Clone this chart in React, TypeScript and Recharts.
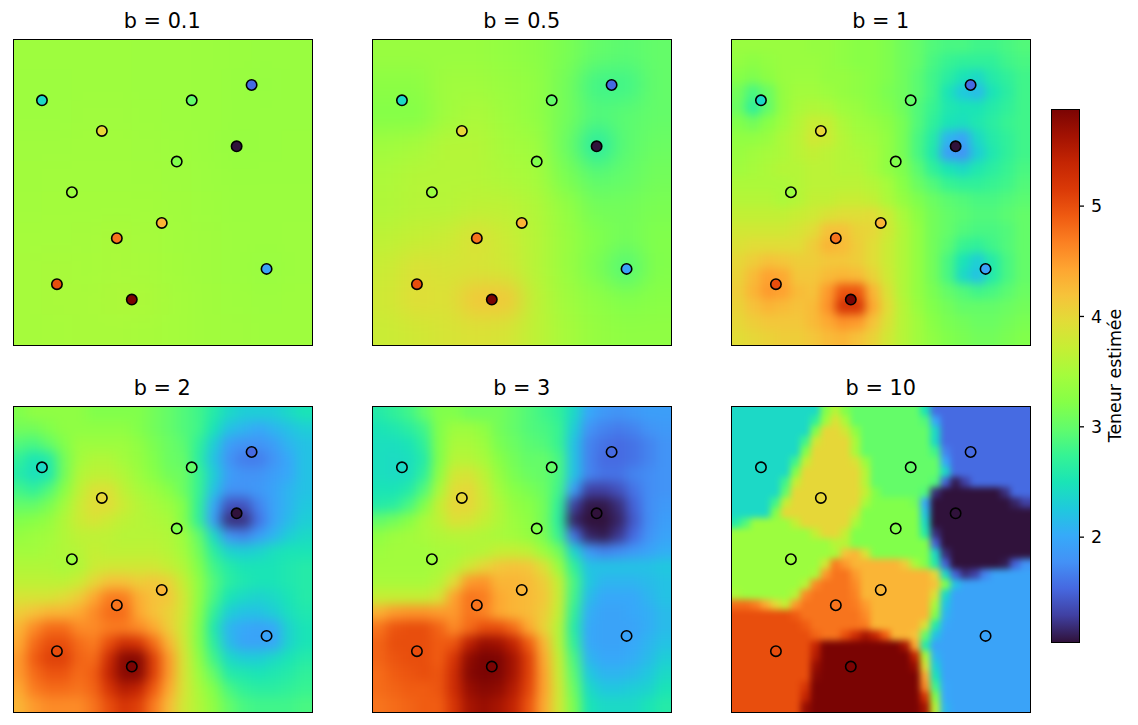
import { Bar, BarChart, Scatter, ScatterChart, XAxis, YAxis } from "recharts";

// sample points: position and measured value
const POINT_X = [10, 30, 60, 80, 75, 55, 20, 50, 35, 85, 15, 40];
const POINT_Y = [80, 70, 80, 85, 65, 60, 50, 40, 35, 25, 20, 15];
const POINT_V = [2.4, 4.0, 3.0, 1.55, 1.05, 3.2, 3.4, 4.3, 4.75, 1.95, 5.0, 5.88];

const TITLES = ["b = 0.1", "b = 0.5", "b = 1", "b = 2", "b = 3", "b = 10"];
const V_MIN = 1.05;
const V_MAX = 5.88;
const BAR_TICKS = [2, 3, 4, 5];

const TURBO = [
  "#30123b", "#4040a2", "#4668e0", "#4391f6", "#36aaf9", "#1fc9dd", "#1ae4b6",
  "#35f394", "#61fc6c", "#85ff47", "#a4fc3c", "#c5ef34", "#e1dd37", "#f6c33a",
  "#fea531", "#fb8022", "#ef5a11", "#da3907", "#c42503", "#a21202", "#7a0403",
];

// estimated field, rows from top to bottom
const GRID_B01 = [
  [3.42,3.42,3.42,3.42,3.41,3.41,3.4,3.39,3.38,3.38],
  [3.41,3.41,3.42,3.42,3.41,3.41,3.4,3.38,3.36,3.38],
  [3.41,3.41,3.43,3.43,3.42,3.41,3.4,3.38,3.38,3.38],
  [3.43,3.43,3.44,3.44,3.43,3.42,3.4,3.36,3.38,3.39],
  [3.44,3.45,3.45,3.45,3.44,3.43,3.41,3.39,3.39,3.39],
  [3.45,3.46,3.46,3.46,3.46,3.44,3.42,3.4,3.4,3.4],
  [3.47,3.47,3.48,3.5,3.48,3.45,3.43,3.41,3.4,3.41],
  [3.48,3.5,3.49,3.5,3.49,3.46,3.43,3.41,3.38,3.41],
  [3.48,3.5,3.5,3.53,3.52,3.47,3.44,3.42,3.41,3.42],
  [3.48,3.49,3.5,3.5,3.49,3.47,3.44,3.43,3.42,3.42],
];

const GRID_B05 = [
  [3.38,3.38,3.38,3.38,3.33,3.27,3.15,3.0,2.95,3.0],
  [3.28,3.28,3.43,3.43,3.38,3.32,3.1,2.8,2.8,3.0],
  [3.22,3.22,3.43,3.52,3.42,3.32,3.1,2.9,2.95,3.0],
  [3.43,3.48,3.58,3.58,3.48,3.42,3.05,2.6,2.95,3.05],
  [3.53,3.58,3.58,3.58,3.53,3.47,3.15,2.95,3.0,3.1],
  [3.55,3.6,3.6,3.65,3.65,3.55,3.33,3.1,3.1,3.15],
  [3.65,3.7,3.75,3.9,3.75,3.6,3.38,3.2,3.1,3.2],
  [3.75,3.9,3.85,3.85,3.8,3.6,3.38,3.15,2.9,3.2],
  [3.8,3.95,3.9,4.15,4.15,3.65,3.43,3.3,3.2,3.25],
  [3.75,3.8,3.85,3.9,3.85,3.65,3.48,3.35,3.3,3.3],
];

const GRID_B1 = [
  [3.38,3.38,3.38,3.38,3.38,3.35,3.35,3.3,3.25,3.25,3.18,3.08,3.0,2.9,2.85,2.85,2.8,2.8,2.85,2.9],
  [3.33,3.28,3.33,3.38,3.38,3.38,3.35,3.3,3.25,3.25,3.18,3.08,3.0,2.85,2.75,2.7,2.7,2.7,2.8,2.85],
  [3.23,3.18,3.28,3.38,3.4,3.4,3.35,3.35,3.3,3.25,3.18,3.08,2.95,2.8,2.65,2.5,2.4,2.6,2.7,2.8],
  [3.1,2.85,3.05,3.35,3.45,3.45,3.4,3.35,3.3,3.25,3.15,3.08,2.95,2.8,2.5,2.25,2.15,2.5,2.65,2.8],
  [3.05,2.7,3.0,3.35,3.5,3.55,3.52,3.42,3.37,3.27,3.2,3.08,2.9,2.75,2.55,2.5,2.5,2.6,2.7,2.8],
  [3.2,3.1,3.25,3.42,3.58,3.72,3.7,3.52,3.42,3.37,3.27,3.13,2.9,2.7,2.5,2.45,2.55,2.65,2.75,2.8],
  [3.32,3.32,3.38,3.52,3.62,3.8,3.75,3.58,3.48,3.43,3.32,3.13,2.85,2.6,2.1,1.95,2.4,2.6,2.7,2.8],
  [3.38,3.43,3.48,3.52,3.62,3.68,3.63,3.58,3.53,3.48,3.32,3.13,2.85,2.55,1.9,1.8,2.3,2.55,2.7,2.8],
  [3.43,3.48,3.52,3.58,3.58,3.63,3.63,3.58,3.58,3.48,3.32,3.18,2.95,2.7,2.5,2.4,2.55,2.65,2.75,2.85],
  [3.52,3.52,3.52,3.52,3.58,3.63,3.63,3.63,3.63,3.58,3.47,3.25,3.05,2.9,2.75,2.7,2.7,2.75,2.8,2.9],
  [3.58,3.58,3.58,3.52,3.58,3.68,3.68,3.73,3.73,3.68,3.52,3.35,3.18,3.05,2.95,2.9,2.85,2.85,2.9,2.95],
  [3.68,3.68,3.68,3.68,3.73,3.78,3.88,3.93,3.93,3.95,3.75,3.5,3.28,3.1,3.0,2.95,2.9,2.9,2.95,3.0],
  [3.8,3.8,3.8,3.8,3.85,3.95,4.2,4.2,4.05,4.0,3.8,3.55,3.33,3.1,3.0,2.9,2.85,2.85,2.9,3.0],
  [3.9,3.95,3.95,3.95,3.95,4.1,4.3,4.25,4.1,3.95,3.75,3.55,3.33,3.1,2.95,2.75,2.7,2.8,2.9,3.0],
  [4.0,4.1,4.2,4.15,4.1,4.1,4.15,4.15,4.1,3.95,3.75,3.55,3.33,3.1,2.85,2.5,2.3,2.6,2.85,3.0],
  [4.05,4.25,4.45,4.4,4.15,4.15,4.25,4.3,4.25,4.05,3.78,3.55,3.33,3.1,2.85,2.4,2.2,2.6,2.85,3.0],
  [4.1,4.3,4.5,4.45,4.25,4.2,4.5,4.95,4.95,4.3,3.88,3.55,3.33,3.15,3.0,2.9,2.8,2.85,2.95,3.05],
  [4.05,4.2,4.3,4.25,4.2,4.25,4.55,5.2,5.2,4.4,3.95,3.6,3.38,3.2,3.1,3.0,3.0,3.0,3.05,3.1],
  [4.0,4.1,4.15,4.15,4.15,4.25,4.4,4.55,4.5,4.2,3.88,3.6,3.43,3.25,3.15,3.1,3.05,3.05,3.1,3.15],
  [3.95,4.0,4.05,4.1,4.1,4.15,4.25,4.3,4.2,4.05,3.8,3.6,3.43,3.3,3.2,3.15,3.1,3.1,3.15,3.2],
];

const GRID_B2 = [
  [3.2,3.3,3.3,3.3,3.3,3.2,3.2,3.2,3.2,3.1,3.0,2.9,2.8,2.6,2.4,2.3,2.3,2.3,2.4,2.5],
  [3.1,3.1,3.2,3.3,3.3,3.3,3.3,3.3,3.2,3.1,3.0,2.9,2.8,2.5,2.2,2.1,2.0,2.1,2.2,2.3],
  [2.9,2.85,3.0,3.2,3.4,3.4,3.4,3.4,3.3,3.15,3.05,2.95,2.7,2.3,1.9,1.8,1.8,1.9,2.1,2.2],
  [2.7,2.5,2.6,3.1,3.45,3.55,3.55,3.45,3.35,3.2,3.05,3.0,2.65,2.2,1.8,1.65,1.65,1.8,2.0,2.2],
  [2.6,2.45,2.55,3.1,3.55,3.65,3.65,3.55,3.4,3.25,3.1,3.05,2.75,2.3,1.9,1.8,1.8,1.9,2.0,2.2],
  [2.8,2.7,2.9,3.25,3.65,3.9,3.9,3.65,3.5,3.4,3.25,3.05,2.75,2.2,1.8,1.8,1.85,1.95,2.1,2.2],
  [3.0,3.0,3.15,3.45,3.75,3.95,3.95,3.75,3.6,3.5,3.4,3.2,2.7,2.0,1.4,1.4,1.7,1.95,2.1,2.25],
  [3.2,3.25,3.35,3.55,3.75,3.85,3.75,3.65,3.6,3.55,3.5,3.2,2.7,1.9,1.2,1.2,1.6,1.95,2.15,2.3],
  [3.35,3.4,3.45,3.55,3.65,3.65,3.65,3.6,3.6,3.6,3.55,3.4,3.0,2.4,1.8,1.7,1.9,2.1,2.3,2.4],
  [3.45,3.45,3.5,3.55,3.6,3.7,3.65,3.65,3.65,3.65,3.6,3.45,3.1,2.65,2.35,2.3,2.35,2.45,2.5,2.5],
  [3.55,3.55,3.55,3.5,3.55,3.75,3.8,3.8,3.8,3.8,3.7,3.55,3.2,2.8,2.6,2.5,2.5,2.5,2.55,2.6],
  [3.65,3.65,3.65,3.65,3.75,4.0,4.2,4.2,4.1,4.15,4.05,3.7,3.3,2.9,2.65,2.55,2.5,2.5,2.55,2.6],
  [3.85,3.85,3.85,3.95,4.1,4.4,4.7,4.7,4.35,4.2,4.15,3.8,3.3,2.85,2.5,2.4,2.35,2.4,2.5,2.6],
  [4.1,4.2,4.3,4.3,4.4,4.6,4.8,4.8,4.4,4.2,4.05,3.8,3.25,2.7,2.3,2.2,2.2,2.3,2.45,2.55],
  [4.3,4.6,4.8,4.8,4.6,4.6,4.7,4.7,4.6,4.4,4.1,3.75,3.2,2.55,2.1,2.0,1.95,2.0,2.35,2.5],
  [4.4,4.8,5.0,5.0,4.8,4.7,5.0,5.3,5.2,4.8,4.3,3.8,3.2,2.65,2.15,1.95,1.95,1.98,2.35,2.5],
  [4.5,4.9,5.1,5.1,4.85,4.8,5.3,5.8,5.8,5.1,4.5,3.85,3.3,2.8,2.4,2.3,2.3,2.4,2.5,2.6],
  [4.5,4.8,4.95,4.95,4.8,4.9,5.4,5.8,5.8,5.1,4.5,3.85,3.4,3.0,2.6,2.55,2.5,2.55,2.6,2.7],
  [4.4,4.7,4.8,4.8,4.75,4.85,5.2,5.5,5.4,4.9,4.4,3.85,3.5,3.2,2.85,2.7,2.65,2.65,2.7,2.75],
  [4.3,4.5,4.6,4.6,4.6,4.75,5.0,5.2,5.1,4.7,4.25,3.8,3.55,3.3,3.0,2.85,2.8,2.8,2.8,2.85],
];

const GRID_B3 = [
  [2.6,2.7,2.8,3.0,3.2,3.2,3.1,3.1,3.1,3.0,2.9,2.8,2.7,2.4,2.0,1.85,1.8,1.85,1.9,1.9],
  [2.5,2.55,2.65,2.8,3.2,3.4,3.4,3.3,3.1,3.0,2.9,2.85,2.75,2.3,1.8,1.7,1.65,1.7,1.8,1.85],
  [2.45,2.45,2.5,2.7,3.2,3.5,3.5,3.4,3.15,3.05,2.95,2.9,2.75,2.2,1.7,1.6,1.55,1.6,1.7,1.8],
  [2.45,2.42,2.45,2.6,3.2,3.6,3.6,3.5,3.25,3.1,3.0,3.0,2.85,2.2,1.7,1.55,1.55,1.6,1.7,1.8],
  [2.45,2.42,2.45,2.7,3.3,3.8,3.85,3.65,3.35,3.15,3.05,3.0,2.85,2.2,1.7,1.6,1.6,1.7,1.75,1.8],
  [2.5,2.5,2.6,2.9,3.5,3.95,4.0,3.75,3.45,3.25,3.15,3.05,2.8,1.9,1.3,1.3,1.4,1.6,1.75,1.8],
  [2.6,2.65,2.85,3.2,3.7,4.0,4.0,3.8,3.55,3.35,3.25,3.1,2.7,1.3,1.08,1.08,1.2,1.5,1.75,1.85],
  [3.0,3.1,3.25,3.5,3.65,3.9,3.85,3.7,3.55,3.4,3.3,3.1,2.65,1.15,1.05,1.05,1.15,1.45,1.75,1.9],
  [3.3,3.4,3.45,3.5,3.55,3.6,3.6,3.55,3.5,3.45,3.35,3.15,2.75,1.6,1.15,1.1,1.25,1.55,1.8,1.95],
  [3.4,3.45,3.45,3.45,3.5,3.5,3.55,3.6,3.7,3.7,3.65,3.4,3.1,2.35,1.85,1.7,1.75,1.85,1.95,2.05],
  [3.45,3.45,3.45,3.45,3.5,3.6,3.8,4.0,4.15,4.2,4.15,3.9,3.4,2.7,2.2,2.2,2.2,2.2,2.2,2.25],
  [3.5,3.5,3.5,3.5,3.6,3.95,4.5,4.55,4.3,4.3,4.25,4.1,3.7,2.85,2.25,2.1,2.1,2.1,2.15,2.2],
  [3.7,3.7,3.7,3.7,3.85,4.45,4.75,4.7,4.4,4.3,4.25,4.15,3.75,2.8,2.15,2.0,2.0,2.0,2.1,2.2],
  [4.35,4.5,4.55,4.55,4.5,4.5,4.75,4.65,4.4,4.3,4.25,4.1,3.7,2.7,2.05,1.95,1.95,2.0,2.05,2.15],
  [4.75,4.95,5.0,5.0,4.85,4.6,4.8,5.0,5.0,4.8,4.4,4.05,3.6,2.6,2.0,1.95,1.95,1.95,2.05,2.15],
  [4.85,5.0,5.0,5.0,4.9,4.95,5.45,5.7,5.65,5.4,4.9,4.3,3.6,2.7,2.0,1.95,1.95,2.0,2.1,2.2],
  [4.85,4.95,5.0,5.0,4.9,5.2,5.75,5.88,5.85,5.6,5.1,4.4,3.7,2.85,2.1,2.0,2.0,2.05,2.15,2.3],
  [4.8,4.9,4.95,5.0,4.95,5.3,5.8,5.88,5.85,5.6,5.1,4.45,3.75,2.95,2.25,2.1,2.1,2.15,2.25,2.4],
  [4.8,4.85,4.9,4.9,4.95,5.3,5.7,5.8,5.75,5.5,5.05,4.45,3.8,3.05,2.4,2.25,2.25,2.3,2.35,2.5],
  [4.75,4.8,4.85,4.9,4.9,5.2,5.6,5.7,5.6,5.4,4.95,4.4,3.8,3.15,2.5,2.4,2.4,2.4,2.5,2.6],
];

const GRID_B10 = [
  [2.4,2.4,2.4,2.4,2.4,2.4,2.4,2.4,2.4,3.2,3.6,3.2,3,3,3,3,3,3,3,2.5,1.55,1.55,1.55,1.55,1.55,1.55,1.55,1.55,1.55,1.55],
  [2.4,2.4,2.4,2.4,2.4,2.4,2.4,2.4,2.7,3.4,3.9,3.5,3,3,3,3,3,3,3,2.9,2,1.55,1.55,1.55,1.55,1.55,1.55,1.55,1.55,1.55],
  [2.4,2.4,2.4,2.4,2.4,2.4,2.4,2.4,3.2,4,4,3.8,3.3,3,3,3,3,3,3,3,2.4,1.55,1.55,1.55,1.55,1.55,1.55,1.55,1.55,1.55],
  [2.4,2.4,2.4,2.4,2.4,2.4,2.4,2.8,3.8,4,4,4,3.5,3,3,3,3,3,3,3,2.4,1.55,1.55,1.55,1.55,1.55,1.55,1.55,1.55,1.55],
  [2.4,2.4,2.4,2.4,2.4,2.4,2.4,3.2,4,4,4,4,3.5,3,3,3,3,3,3,3,2.8,1.7,1.55,1.55,1.55,1.55,1.55,1.55,1.55,1.55],
  [2.4,2.4,2.4,2.4,2.4,2.4,2.8,3.7,4,4,4,4,3.9,3.4,3,3,3,3,3,3,3,2,1.55,1.55,1.55,1.55,1.55,1.55,1.55,1.55],
  [2.4,2.4,2.4,2.4,2.4,2.4,3.2,4,4,4,4,4,4,3.6,3,3,3,3,3,3,3,2.4,1.55,1.55,1.55,1.55,1.55,1.55,1.55,1.55],
  [2.4,2.4,2.4,2.4,2.4,2.8,3.7,4,4,4,4,4,4,3.6,3,3,3,3,3,3,2.9,1.5,1.1,1.3,1.55,1.55,1.55,1.55,1.55,1.55],
  [2.4,2.4,2.4,2.4,2.4,3,4,4,4,4,4,4,4,3.7,3.2,3,3,3,3,2.9,1.2,1.05,1.05,1.05,1.05,1.05,1.05,1.2,1.55,1.55],
  [2.4,2.4,2.4,2.4,2.8,3.7,4,4,4,4,4,4,4,3.5,3.2,3.2,3.2,3.2,3.1,2,1.05,1.05,1.05,1.05,1.05,1.05,1.05,1.05,1.15,1.3],
  [2.4,2.4,2.4,2.4,3.2,4,4,4,4,4,4,4,3.8,3.2,3.2,3.2,3.2,3.2,3.2,2.2,1.05,1.05,1.05,1.05,1.05,1.05,1.05,1.05,1.05,1.05],
  [2.6,2.9,3.4,3.4,3.4,3.4,3.7,4,4,4,4,4,3.5,3.2,3.2,3.2,3.2,3.2,3.2,2.4,1.05,1.05,1.05,1.05,1.05,1.05,1.05,1.05,1.05,1.05],
  [3.4,3.4,3.4,3.4,3.4,3.4,3.4,3.4,3.7,4,4,3.7,3.2,3.2,3.2,3.2,3.2,3.2,3.2,2.6,1.2,1.05,1.05,1.05,1.05,1.05,1.05,1.05,1.05,1.05],
  [3.4,3.4,3.4,3.4,3.4,3.4,3.4,3.4,3.4,3.4,3.6,3.6,3.2,3.2,3.2,3.2,3.2,3.2,3.2,3.2,1.5,1.05,1.05,1.05,1.05,1.05,1.05,1.05,1.05,1.05],
  [3.4,3.4,3.4,3.4,3.4,3.4,3.4,3.4,3.4,3.4,3.5,4.2,4.3,3.9,3.2,3.2,3.2,3.2,3.2,3.2,2.4,1.2,1.05,1.05,1.05,1.05,1.05,1.05,1.05,1.05],
  [3.4,3.4,3.4,3.4,3.4,3.4,3.4,3.4,3.4,3.8,4.7,4.5,4.3,4.3,4.3,4.3,4.3,4.1,3.5,3.2,2.6,1.5,1.05,1.05,1.05,1.05,1.05,1.1,1.5,1.8],
  [3.4,3.4,3.4,3.4,3.4,3.4,3.4,3.4,3.5,4.5,4.75,4.75,4.5,4.3,4.3,4.3,4.3,4.3,4.3,4.3,4,2.4,1.5,1.2,1.3,1.7,1.95,1.95,1.95,1.95],
  [3.4,3.4,3.4,3.4,3.4,3.4,3.4,3.6,4.6,4.75,4.75,4.75,4.6,4.3,4.3,4.3,4.3,4.3,4.3,4.3,4.2,3.2,2.2,1.95,1.95,1.95,1.95,1.95,1.95,1.95],
  [3.5,3.4,3.4,3.4,3.4,3.4,3.6,4.6,4.75,4.75,4.75,4.75,4.65,4.3,4.3,4.3,4.3,4.3,4.3,4.3,3.9,2.4,1.95,1.95,1.95,1.95,1.95,1.95,1.95,1.95],
  [4.8,4.8,4.7,4.4,4,3.7,4.5,4.75,4.75,4.75,4.75,4.75,4.7,4.5,4.3,4.3,4.3,4.3,4.3,4.3,3.5,2.2,1.95,1.95,1.95,1.95,1.95,1.95,1.95,1.95],
  [5,5,5,5,5,5,4.9,4.75,4.75,4.75,4.75,4.75,4.75,4.6,4.3,4.3,4.3,4.3,4.3,4.3,3.2,2.1,1.95,1.95,1.95,1.95,1.95,1.95,1.95,1.95],
  [5,5,5,5,5,5,5,4.9,4.75,4.75,4.75,4.75,4.75,4.7,4.3,4.3,4.3,4.3,4.3,3.9,2.6,2,1.95,1.95,1.95,1.95,1.95,1.95,1.95,1.95],
  [5,5,5,5,5,5,5,5,4.85,4.75,4.75,5,5.3,5.6,5.4,4.9,4.3,4.3,4.2,3,2.2,1.95,1.95,1.95,1.95,1.95,1.95,1.95,1.95,1.95],
  [5,5,5,5,5,5,5,5,5.4,5.88,5.88,5.88,5.88,5.88,5.88,5.88,5.88,5.6,4.4,2.6,1.95,1.95,1.95,1.95,1.95,1.95,1.95,1.95,1.95,1.95],
  [5,5,5,5,5,5,5,5,5.5,5.88,5.88,5.88,5.88,5.88,5.88,5.88,5.88,5.88,5.4,3.5,2.1,1.95,1.95,1.95,1.95,1.95,1.95,1.95,1.95,1.95],
  [5,5,5,5,5,5,5,5,5.7,5.88,5.88,5.88,5.88,5.88,5.88,5.88,5.88,5.88,5.7,3.9,2.3,1.95,1.95,1.95,1.95,1.95,1.95,1.95,1.95,1.95],
  [5,5,5,5,5,5,5,5,5.8,5.88,5.88,5.88,5.88,5.88,5.88,5.88,5.88,5.88,5.88,4.4,2.5,1.95,1.95,1.95,1.95,1.95,1.95,1.95,1.95,1.95],
  [5,5,5,5,5,5,5,5.2,5.88,5.88,5.88,5.88,5.88,5.88,5.88,5.88,5.88,5.88,5.88,4.6,2.8,2,1.95,1.95,1.95,1.95,1.95,1.95,1.95,1.95],
  [5,5,5,5,5,5,5,5.4,5.88,5.88,5.88,5.88,5.88,5.88,5.88,5.88,5.88,5.88,5.88,5.2,3.2,2,1.95,1.95,1.95,1.95,1.95,1.95,1.95,1.95],
  [5,5,5,5,5,5,5,5.7,5.88,5.88,5.88,5.88,5.88,5.88,5.88,5.88,5.88,5.88,5.88,5.6,3.6,2.1,1.95,1.95,1.95,1.95,1.95,1.95,1.95,1.95],
];

const GRIDS = [GRID_B01, GRID_B05, GRID_B1, GRID_B2, GRID_B3, GRID_B10];
const BLURS = [12, 11, 5, 6, 5.5, 3.4];
const LEFTS = [12.3, 371.8, 730.8];
const TOPS = [39, 406];
const PLOT_W = 299.5;
const PLOT_H = 306.5;

const mix = (a: string, b: string, t: number) => {
  const ch = (c: string, i: number) => parseInt(c.slice(1 + i * 2, 3 + i * 2), 16);
  return `rgb(${[0, 1, 2].map((i) => Math.round(ch(a, i) + (ch(b, i) - ch(a, i)) * t)).join(",")})`;
};

const turbo = (v: number) => {
  const t = Math.min(1, Math.max(0, (v - V_MIN) / (V_MAX - V_MIN))) * (TURBO.length - 1);
  const i = Math.min(TURBO.length - 2, Math.floor(t));
  return mix(TURBO[i], TURBO[i + 1], t - i);
};

const points = POINT_V.map((v, i) => ({ x: POINT_X[i], y: POINT_Y[i], v }));

const cellsOf = (grid: number[][]) =>
  grid.flatMap((row, r) =>
    row.map((v, c) => ({
      x: ((c + 0.5) * 100) / row.length,
      y: 100 - ((r + 0.5) * 100) / grid.length,
      v,
      r,
      c,
      n: row.length,
    }))
  );

// edge cells run past the plot so the blur does not fade at the border
const HeatCell = (props: any) => {
  const { cx, cy, payload } = props;
  const { v, r, c, n } = payload;
  const w = PLOT_W / n;
  const h = PLOT_H / n;
  const pad = 40;
  const x0 = cx - w / 2 - 0.5 - (c === 0 ? pad : 0);
  const x1 = cx + w / 2 + 0.5 + (c === n - 1 ? pad : 0);
  const y0 = cy - h / 2 - 0.5 - (r === 0 ? pad : 0);
  const y1 = cy + h / 2 + 0.5 + (r === n - 1 ? pad : 0);
  return <rect x={x0} y={y0} width={x1 - x0} height={y1 - y0} fill={turbo(v)} />;
};

const Dot = (props: any) => (
  <circle cx={props.cx} cy={props.cy} r={5.2} fill={turbo(props.payload.v)} stroke="#000" strokeWidth={1.6} />
);

const font = "'DejaVu Sans', sans-serif";

const Panel = ({ index }: { index: number }) => {
  const left = LEFTS[index % 3];
  const top = TOPS[Math.floor(index / 3)];
  return (
    <>
      <div
        style={{ position: "absolute", left: left + 0.2, top: top - 30.5, width: PLOT_W, textAlign: "center", fontSize: 20.8, lineHeight: "24px", color: "#000" }}
      >
        {TITLES[index]}
      </div>
      <div style={{ position: "absolute", left, top, width: 300.5, height: 307, overflow: "hidden" }}>
        <ScatterChart width={PLOT_W + 4} height={PLOT_H + 4} margin={{ top: 0, right: 4, bottom: 4, left: 0 }}>
          <XAxis type="number" dataKey="x" domain={[0, 100]} hide />
          <YAxis type="number" dataKey="y" domain={[0, 100]} hide />
          <Scatter
            className={`heat-${index}`}
            data={cellsOf(GRIDS[index])}
            shape={HeatCell}
            isAnimationActive={false}
          />
          <Scatter data={points} shape={Dot} isAnimationActive={false} />
        </ScatterChart>
      </div>
      <div
        style={{
          position: "absolute",
          left: left + 0.6,
          top,
          width: PLOT_W + 0.5,
          height: PLOT_H + 0.5,
          boxSizing: "border-box",
          border: "1.3px solid #000",
        }}
      />
      {/* white mask keeps the small overhang of the field out of the margin */}
      <div style={{ position: "absolute", left: left - 1, top, width: 1.6, height: PLOT_H + 1, background: "#fff" }} />
    </>
  );
};

const ColorBar = () => (
  <>
    <div style={{ position: "absolute", left: 1051, top: 109, width: 87, height: 533 }}>
      <BarChart
        width={87}
        height={533}
        data={[{ name: "bar", range: [V_MIN, V_MAX] }]}
        margin={{ top: 0, right: 0, bottom: 0, left: 0 }}
        barCategoryGap={0}
      >
        <defs>
          <linearGradient id="turboBar" x1="0" y1="1" x2="0" y2="0">
            {TURBO.map((c, i) => (
              <stop key={i} offset={i / (TURBO.length - 1)} stopColor={c} />
            ))}
          </linearGradient>
        </defs>
        <XAxis dataKey="name" hide />
        <YAxis
          orientation="right"
          type="number"
          width={59}
          domain={[V_MIN, V_MAX]}
          ticks={BAR_TICKS}
          tick={{ fill: "#000", fontSize: 17.4, fontFamily: font }}
          tickLine={{ stroke: "#000", strokeWidth: 1.3 }}
          tickSize={5}
          tickMargin={7}
          axisLine={false}
          label={{
            value: "Teneur estimée",
            angle: -90,
            position: "right",
            dx: -28,
            style: { fill: "#000", fontSize: 17.4, fontFamily: font, textAnchor: "middle" },
          }}
        />
        <Bar dataKey="range" fill="url(#turboBar)" isAnimationActive={false} />
      </BarChart>
    </div>
    <div
      style={{
        position: "absolute",
        left: 1051,
        top: 109,
        width: 29,
        height: 533.5,
        boxSizing: "border-box",
        border: "1.3px solid #000",
      }}
    />
  </>
);

export default function App() {
  return (
    <div style={{ position: "absolute", left: 0, top: 0, width: 1138, height: 725, fontFamily: font, background: "#fff" }}>
      <svg width={0} height={0} style={{ position: "absolute" }}>
        <defs>
          {BLURS.map((b, i) => (
            <filter key={i} id={`blur-${i}`} colorInterpolationFilters="sRGB" x="-5%" y="-5%" width="110%" height="110%">
              <feGaussianBlur stdDeviation={b} />
            </filter>
          ))}
        </defs>
      </svg>
      <style>{BLURS.map((_, i) => `.heat-${i}{filter:url(#blur-${i})}`).join("")}</style>
      {TITLES.map((_, i) => (
        <Panel key={i} index={i} />
      ))}
      <ColorBar />
    </div>
  );
}
